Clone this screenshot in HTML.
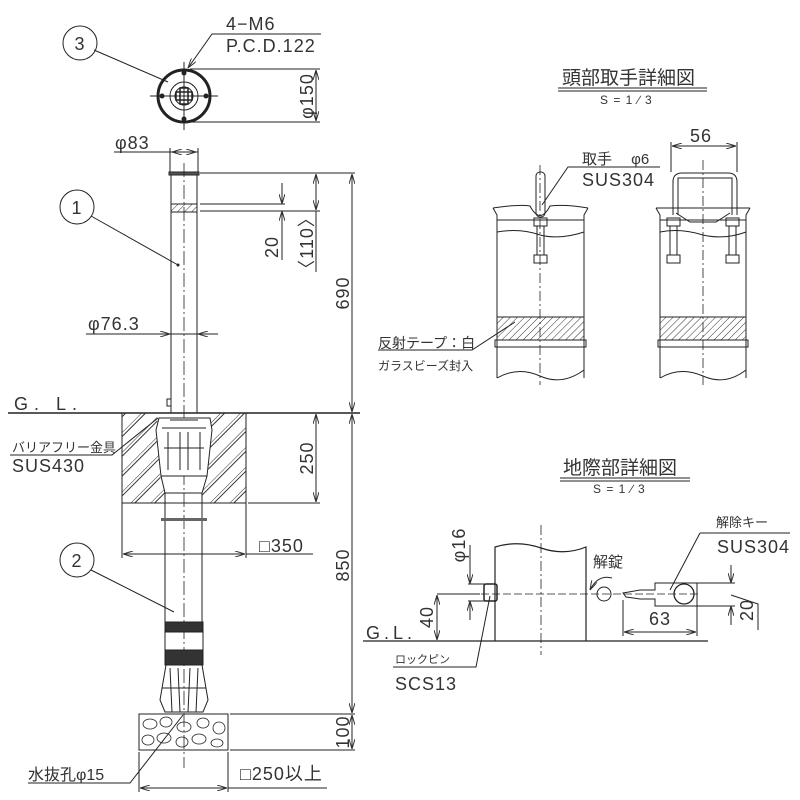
<!DOCTYPE html>
<html><head><meta charset="utf-8"><style>
html,body{margin:0;padding:0;background:#fff}
svg{display:block}
text{font-family:"Liberation Sans","Noto Sans CJK JP",sans-serif;fill:#333}
</style></head><body>
<svg width="800" height="800" viewBox="0 0 800 800" xmlns="http://www.w3.org/2000/svg">
<defs>
<pattern id="h" width="5" height="5" patternUnits="userSpaceOnUse" patternTransform="rotate(45)">
<line x1="0" y1="0" x2="0" y2="5" stroke="#333" stroke-width="1"/></pattern>
<pattern id="h2" width="14" height="14" patternUnits="userSpaceOnUse" patternTransform="rotate(45)">
<line x1="0" y1="0" x2="0" y2="14" stroke="#333" stroke-width="1"/><line x1="3" y1="0" x2="3" y2="14" stroke="#333" stroke-width="1"/></pattern>
<marker id="a" viewBox="0 0 10 6" refX="10" refY="3" markerWidth="10" markerHeight="6" orient="auto-start-reverse" markerUnits="userSpaceOnUse"><path d="M0,0 L10,3 L0,6" fill="none" stroke="#333"/></marker>
</defs>
<g stroke="#222" fill="none" stroke-width="1">
<circle cx="184" cy="96" r="26" stroke-width="3"/>
<circle cx="184" cy="96" r="14"/>
<circle cx="184" cy="96" r="9"/>
<path d="M150,96H218M184,62V130" />
<path d="M180,88h8v16h-8zM176,92h16v8h-16z" stroke-width="1.5"/>
<g fill="#222"><circle cx="184" cy="73" r="2"/><circle cx="184" cy="119" r="2"/><circle cx="162" cy="96" r="2"/><circle cx="206" cy="96" r="2"/></g>
<circle cx="80" cy="43" r="17"/>
<line x1="94" y1="50" x2="168" y2="82"/>
<path d="M321,34H212L188,68" marker-end="url(#a)"/>
<path d="M190,69H320M190,122H320"/>
<line x1="316" y1="70" x2="316" y2="121" marker-start="url(#a)" marker-end="url(#a)"/>
<rect x="171" y="174" width="26" height="239"/>
<rect x="169" y="172" width="30" height="3" fill="#555"/>
<rect x="171" y="204" width="26" height="8" fill="url(#h)"/>
<path d="M171,204H197M171,212H197"/>
<rect x="167" y="399" width="4" height="7"/>
<path d="M184,163V768" stroke-dasharray="14,3,2,3" stroke-width="0.8"/>
<circle cx="77" cy="207" r="17"/>
<line x1="91" y1="216" x2="178" y2="265"/>
<circle cx="178" cy="265" r="1" fill="#222"/>
<path d="M114,152H198M170,148V172M198,148V172"/>
<line x1="172" y1="152" x2="196" y2="152" marker-start="url(#a)" marker-end="url(#a)"/>
<path d="M86,334H218"/>
<line x1="150" y1="334" x2="170" y2="334" marker-end="url(#a)"/><line x1="218" y1="334" x2="198" y2="334" marker-end="url(#a)"/>
<path d="M200,173H355M200,204H285M200,211H320"/>
<line x1="282" y1="183" x2="282" y2="204" marker-end="url(#a)"/><line x1="282" y1="260" x2="282" y2="211" marker-end="url(#a)"/>
<line x1="316" y1="174" x2="316" y2="210" marker-start="url(#a)" marker-end="url(#a)"/>
<path d="M316,211V272"/>
<line x1="352" y1="174" x2="352" y2="412" marker-start="url(#a)" marker-end="url(#a)"/>
<path d="M8,413H360" stroke-width="1.5"/>
<path d="M122,413H157L160,476 165,493V503H122Z M246,413H211L208,476 202,493V503H246Z" fill="url(#h2)" stroke="none"/>
<path d="M122,413V503H246V413"/>
<path d="M159,418H210L212,430 207,476H161L156,430Z" fill="#fff"/>
<path d="M161,476L165,493M207,476L202,493M165,493H202"/>
<path d="M162,428H206M164,448H204M168,432V470M180,432V470M188,432V470M200,432V470M170,420h28"/>
<path d="M165,493V622M202,493V622"/>
<rect x="161" y="518" width="46" height="3" fill="#666" stroke="none"/>
<rect x="165" y="622" width="38" height="10" fill="#333"/>
<path d="M165,632V650M203,632V650"/>
<rect x="165" y="650" width="38" height="15" fill="#333"/>
<path d="M166,665L160,700 165,712H203L208,700 202,665M170,668L172,712M178,668L180,712M190,668L188,712M198,668L196,712M162,688H206"/>
<rect x="139" y="714" width="89" height="36"/>
<g stroke-width="0.8">
<ellipse cx="150" cy="724" rx="7" ry="5"/><ellipse cx="166" cy="722" rx="6" ry="5"/><ellipse cx="184" cy="727" rx="7" ry="5"/><ellipse cx="203" cy="723" rx="6" ry="5"/><ellipse cx="219" cy="728" rx="6" ry="6"/>
<ellipse cx="148" cy="740" rx="6" ry="5"/><ellipse cx="164" cy="738" rx="7" ry="5"/><ellipse cx="182" cy="742" rx="6" ry="5"/><ellipse cx="199" cy="739" rx="7" ry="5"/><ellipse cx="217" cy="743" rx="6" ry="4"/>
</g>
<circle cx="77" cy="560" r="17"/>
<line x1="91" y1="570" x2="174" y2="612"/>
<path d="M10,455H112L158,418" />
<path d="M248,503H320M230,714H355M230,750H355"/>
<line x1="316" y1="414" x2="316" y2="502" marker-start="url(#a)" marker-end="url(#a)"/>
<line x1="352" y1="414" x2="352" y2="713" marker-start="url(#a)" marker-end="url(#a)"/>
<line x1="352" y1="715" x2="352" y2="749" marker-start="url(#a)" marker-end="url(#a)"/>
<path d="M122,503V558M246,503V558M246,554H313"/>
<line x1="123" y1="554" x2="245" y2="554" marker-start="url(#a)" marker-end="url(#a)"/>
<path d="M139,752V792M228,752V792M228,788H327M28,783H130L183,715"/>
<line x1="140" y1="788" x2="227" y2="788" marker-start="url(#a)" marker-end="url(#a)"/>

<path d="M558,88H707M558,91H707"/>
<path d="M493,208L497,215 497,378M588,208L584,215 584,378"/>
<path d="M493,208Q520,204 530,206Q540,225 550,206Q565,204 588,208"/>
<path d="M497,220H584M497,232Q520,228 540,235Q560,240 584,232"/>
<rect x="497" y="317" width="87" height="23" fill="url(#h)"/>
<rect x="495" y="340" width="91" height="7"/>
<path d="M497,378Q518,366 540,376Q562,386 584,370"/>
<rect x="536" y="172" width="9" height="45" rx="4"/>
<rect x="534" y="218" width="13" height="8"/>
<path d="M537,226V255M544,226V255"/>
<rect x="534" y="255" width="13" height="8"/>
<path d="M540,165V385" stroke-dasharray="10,3,2,3" stroke-width="0.8"/>
<path d="M660,167H568L542,205" />
<path d="M378,350H472L515,322"/>
<path d="M656,208L660,215 660,378M750,208L746,215 746,378"/>
<path d="M656,208H750M660,220H746M660,232Q680,228 703,235Q725,240 746,232"/>
<path d="M673,215V182Q673,173 682,173H728Q737,173 737,182V215M678,215V178H732V215"/>
<path d="M676,213L690,222H716L730,213"/>
<rect x="667" y="218" width="13" height="8"/><rect x="726" y="218" width="13" height="8"/>
<rect x="667" y="255" width="13" height="8"/><rect x="726" y="255" width="13" height="8"/>
<path d="M670,226V255M677,226V255M729,226V255M736,226V255"/>
<rect x="660" y="317" width="86" height="23" fill="url(#h)"/>
<rect x="658" y="340" width="90" height="7"/>
<path d="M660,378Q680,366 703,376Q725,386 746,370"/>
<path d="M703,160V385" stroke-dasharray="10,3,2,3" stroke-width="0.8"/>
<path d="M671,142V172M737,142V172"/>
<line x1="672" y1="146" x2="736" y2="146" marker-start="url(#a)" marker-end="url(#a)"/>

<path d="M560,478H690M560,481H690"/>
<path d="M363,641H708" stroke-width="1.3"/>
<path d="M495,641V547Q518,540 541,548Q564,556 586,547V641" stroke-width="1.2"/>
<path d="M541,525V655" stroke-dasharray="10,3,2,3" stroke-width="0.8"/>
<path d="M470,594H700" stroke-dasharray="8,3" stroke-width="0.8"/>
<rect x="484" y="584" width="13" height="17" rx="2" stroke-width="1.5"/>
<circle cx="604" cy="594" r="7"/>
<path d="M612,578Q598,574 590,590" marker-end="url(#a)"/>
<path d="M623,593L640,590H655V583H697V606H655V599H640L626,597Z"/>
<circle cx="684" cy="594" r="10" stroke-width="1.3"/>
<path d="M623,600V636M697,606V636"/>
<line x1="624" y1="632" x2="696" y2="632" marker-start="url(#a)" marker-end="url(#a)"/>
<path d="M697,583H735M697,606H735"/>
<line x1="731" y1="565" x2="731" y2="583" marker-end="url(#a)"/><line x1="731" y1="625" x2="731" y2="606" marker-end="url(#a)"/>
<path d="M731,595L758,604V630"/>
<path d="M468,584H490M468,601H490"/>
<line x1="470" y1="545" x2="470" y2="584" marker-end="url(#a)"/><line x1="470" y1="620" x2="470" y2="601" marker-end="url(#a)"/>
<path d="M437,594H480"/>
<line x1="437" y1="595" x2="437" y2="640" marker-start="url(#a)" marker-end="url(#a)"/>
<path d="M393,667H476L490,596"/>
<path d="M700,533H790M700,533L670,590"/>
</g>
<g font-size="18" letter-spacing="1">
<text x="80" y="50" text-anchor="middle" font-size="18">3</text>
<text x="77" y="214" text-anchor="middle" font-size="18">1</text>
<text x="77" y="567" text-anchor="middle" font-size="18">2</text>
<text x="226" y="30">4−M6</text>
<text x="226" y="52">P.C.D.122</text>
<text transform="translate(313,96) rotate(-90)" text-anchor="middle">φ150</text>
<text x="115" y="149">φ83</text>
<text x="88" y="330">φ76.3</text>
<text transform="translate(278,247) rotate(-90)" text-anchor="middle">20</text>
<text transform="translate(313,243) rotate(-90)" text-anchor="middle">〈110〉</text>
<text transform="translate(349,293) rotate(-90)" text-anchor="middle">690</text>
<text x="14" y="410" letter-spacing="6">G. L.</text>
<text x="12" y="452" font-size="13" letter-spacing="0">バリアフリー金具</text>
<text x="12" y="472">SUS430</text>
<text transform="translate(313,458) rotate(-90)" text-anchor="middle">250</text>
<text transform="translate(349,565) rotate(-90)" text-anchor="middle">850</text>
<text transform="translate(349,732) rotate(-90)" text-anchor="middle">100</text>
<text x="259" y="552">□350</text>
<text x="28" y="780" font-size="16" letter-spacing="0">水抜孔φ15</text>
<text x="240" y="780">□250以上</text>
<text x="562" y="84" font-size="19" letter-spacing="0">頭部取手詳細図</text>
<text x="600" y="104" font-size="12">S = 1 ∕ 3</text>
<text x="690" y="142">56</text>
<text x="582" y="164" font-size="15" letter-spacing="0">取手　 φ6</text>
<text x="582" y="186">SUS304</text>
<text x="378" y="348" font-size="14" letter-spacing="0">反射テープ：白</text>
<text x="378" y="370" font-size="12" letter-spacing="0">ガラスビーズ封入</text>
<text x="563" y="474" font-size="19" letter-spacing="0">地際部詳細図</text>
<text x="593" y="493" font-size="12">S = 1 ∕ 3</text>
<text x="593" y="567" font-size="15" letter-spacing="0">解錠</text>
<text x="366" y="639" letter-spacing="4">G.L.</text>
<text transform="translate(465,545) rotate(-90)" text-anchor="middle">φ16</text>
<text transform="translate(433,617) rotate(-90)" text-anchor="middle">40</text>
<text x="660" y="625" text-anchor="middle">63</text>
<text transform="translate(753,610) rotate(-90)" text-anchor="middle">20</text>
<text x="395" y="663" font-size="11" letter-spacing="0">ロックピン</text>
<text x="395" y="690">SCS13</text>
<text x="716" y="527" font-size="13" letter-spacing="0">解除キー</text>
<text x="717" y="553">SUS304</text>
</g>
</svg>
</body></html>
